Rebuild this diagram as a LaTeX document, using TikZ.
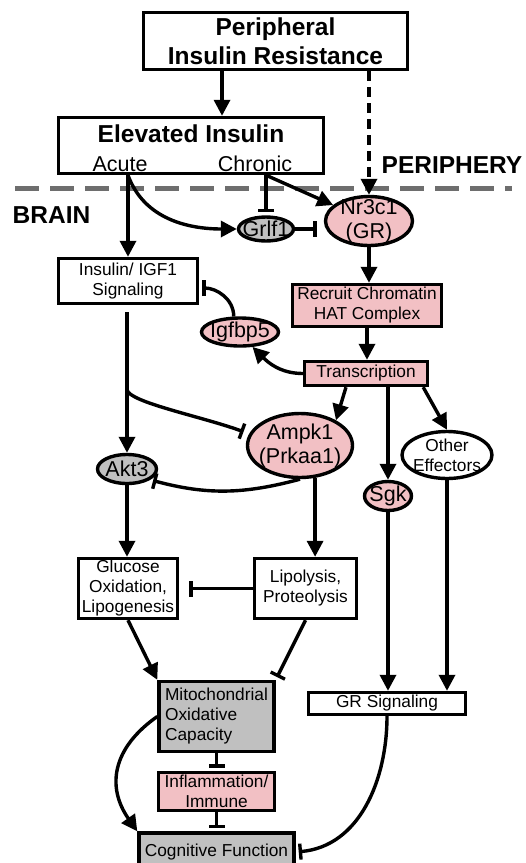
\documentclass[tikz,border=0pt]{standalone}
\usepackage{fontspec}
\setmainfont{Liberation Sans}
\usepackage{xcolor}
\usepackage{tikz}
\usetikzlibrary{positioning,shapes.geometric,arrows.meta,calc}
\definecolor{pinkfill}{HTML}{F2C0C4}
\definecolor{grayfill}{HTML}{C0C0C0}
\definecolor{divgray}{HTML}{6E6E6E}

\begin{document}
\begin{tikzpicture}[x=1pt, y=1pt,
  block/.style={rectangle, draw, line width=3.4pt, inner sep=1pt, align=center,
                font=\fontsize{17.3}{20}\selectfont},
  oval/.style={ellipse, draw, line width=3.4pt, inner xsep=-12pt, inner ysep=-6pt, align=center,
               font=\fontsize{21.5}{24}\selectfont},
  hdr/.style={font=\fontsize{24.5}{29}\selectfont\bfseries},
  sub/.style={font=\fontsize{21.5}{24}\selectfont, inner sep=0pt},
  arr/.style={-{Triangle[length=16pt,width=16pt]}, line width=3.4pt},
  inh/.style={-{Bar[width=16pt]}, line width=3.4pt, shorten >=3pt},
  dasharr/.style={arr, dash pattern=on 10pt off 6pt},
  divider/.style={line width=5pt, draw=divgray, dash pattern=on 24pt off 11pt}
]
\useasboundingbox (0,0) rectangle (526,-863);

% top: periphery
\node[block, hdr, minimum width=264, minimum height=57] (per) at (275.5,-41) {Peripheral\\Insulin Resistance};
\node[block, minimum width=265, minimum height=56] (elev) at (191,-145.5) {};
\node[hdr, anchor=base, inner sep=0pt] (elevtxt) at (191,-142) {Elevated Insulin};
\node[sub, anchor=base] (acute) at (120,-171) {Acute};
\node[sub, anchor=base] (chronic) at (255,-171) {Chronic};
\node[hdr, anchor=base, inner sep=0pt] (periph) at (452,-173) {PERIPHERY};
\node[hdr, anchor=base, inner sep=0pt] (brain) at (51.5,-223) {BRAIN};
\draw[divider] (15,-188) -- (512,-188);

% brain side
\node[oval, fill=pinkfill, minimum width=87, minimum height=49] (nr) at (369,-221) {Nr3c1\\(GR)};
\node[oval, fill=grayfill, minimum width=55, minimum height=24] (grlf) at (266,-229) {Grlf1};
\node[block, minimum width=139, minimum height=45] (ins) at (128,-281) {Insulin/ IGF1\\Signaling};
\node[block, fill=pinkfill, minimum width=149, minimum height=42] (rec) at (367,-305.5) {Recruit Chromatin\\HAT Complex};
\node[oval, fill=pinkfill, minimum width=77, minimum height=28] (igf) at (240,-332) {Igfbp5};
\node[block, fill=pinkfill, minimum width=123, minimum height=24] (trans) at (366,-373.5) {Transcription};
\node[oval, fill=pinkfill, minimum width=105, minimum height=64] (amp) at (300,-445.5) {Ampk1\\(Prkaa1)};
\node[oval, fill=grayfill, minimum width=59, minimum height=29] (akt) at (127,-469) {Akt3};
\node[oval, fill=pinkfill, minimum width=47, minimum height=29] (sgk) at (388,-496) {Sgk};
\node[oval, font=\fontsize{17.3}{20}\selectfont, minimum width=90, minimum height=47] (oth) at (447,-455) {Other\\Effectors};
\node[block, minimum width=99, minimum height=60] (glu) at (128,-588.5) {Glucose\\Oxidation,\\Lipogenesis};
\node[block, minimum width=102, minimum height=60] (lip) at (305.5,-588.5) {Lipolysis,\\Proteolysis};
\node[block, fill=grayfill, align=left, minimum width=115, minimum height=70] (mito) at (216.5,-716.5) {Mitochondrial\\Oxidative\\Capacity};
\node[block, fill=pinkfill, inner ysep=0pt, minimum width=116, minimum height=38] (infl) at (216.5,-791.5) {Inflammation/\\Immune};
\node[block, fill=grayfill, minimum width=155, minimum height=38] (cog) at (216.5,-852) {Cognitive Function};
\node[block, minimum width=157, minimum height=22] (grs) at (387,-703.5) {GR Signaling};

\coordinate (pd) at ($(per.south west)!0.3!(per.south east)$);
\coordinate (chr) at (grlf.north |- elev.south);
\coordinate (br) at ([yshift=63pt]akt.north);

% connectors
\draw[arr] (pd) -- (pd |- elev.north);
\draw[dasharr] (nr.north |- per.south) -- (nr.north);
\draw[arr] (ins.north |- elev.south) -- (ins.north);
\draw[arr] (ins.north |- elev.south) to[out=-70,in=180] (grlf.west);
\draw[inh] (chr) -- (grlf.north);
\draw[arr] (chr) -- (nr);
\draw[inh, shorten >=7pt] (grlf.east) -- (grlf.east -| nr.west);
\draw[arr] (nr.south) -- (nr.south |- rec.north);
\draw[arr] (rec.south) -- (rec.south |- trans.north);
\draw[arr] (trans.west) to[out=180,in=-45] (igf.-50);
\draw[inh] (igf.112) to[out=90,in=0] ([yshift=-7pt]ins.east);
\draw[arr, shorten <=7pt] (akt.north |- ins.south) -- (akt.north);
\draw[inh, shorten >=6pt] (br) to[out=-80,in=160,out looseness=0.25] (amp.167);
\draw[arr] ([xshift=-20pt]trans.south) -- (amp.35);
\draw[arr] (sgk.north |- trans.south) -- (sgk.north);
\draw[arr] ([xshift=-6pt]trans.south east) -- (oth.north);
\draw[inh] (amp.south) to[out=195,in=-15] (akt.-25);
\draw[arr] (amp.-65) -- (amp.-65 |- lip.north);
\draw[arr] (akt.south) -- (akt.south |- glu.north);
\draw[inh, shorten >=10pt] (lip.west) -- (glu.east);
\draw[arr] (glu.south) -- (mito.north west);
\draw[inh] (lip.south) -- (mito.north east);
\draw[inh] (mito.south) -- (infl.north);
\draw[inh] (infl.south) -- (cog.north);
\draw[arr] (mito.west) to[out=215,in=125,looseness=1.2] (cog.north west);
\draw[arr] (sgk.south) -- (sgk.south |- grs.north);
\draw[arr] (oth.south) -- (oth.south |- grs.north);
\draw[inh] (grs.south) to[out=-90,in=5] (cog.east);
\end{tikzpicture}
\end{document}
